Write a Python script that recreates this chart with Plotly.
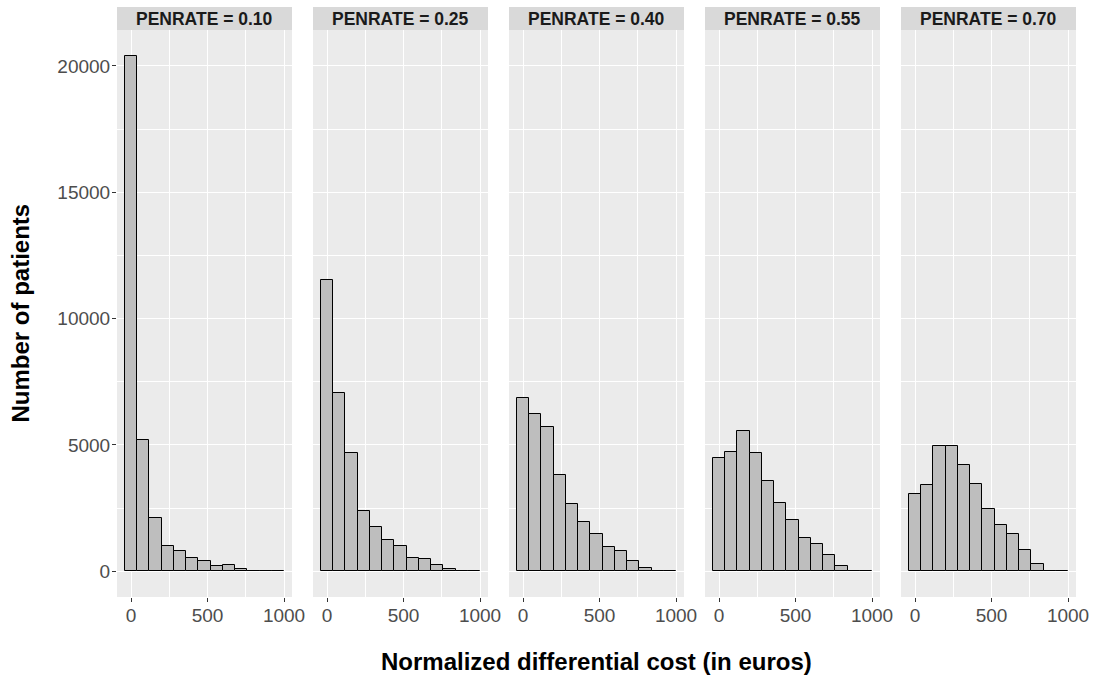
import plotly.graph_objects as go
from plotly.subplots import make_subplots

# -- Data ---------------------------------------------------------------------
BIN_CENTERS = [0, 80, 160, 240, 320, 400, 480, 560, 640, 720, 800, 880, 960]
BIN_WIDTH = 80

PANEL_LABELS = ["PENRATE = 0.10", "PENRATE = 0.25", "PENRATE = 0.40",
                "PENRATE = 0.55", "PENRATE = 0.70"]

counts_010 = [20400, 5190, 2120, 1015, 800, 540, 405, 210, 235, 105, 28, 5, 0]
counts_025 = [11530, 7050, 4680, 2390, 1755, 1240, 1005, 540, 475, 255, 95, 16, 0]
counts_040 = [6865, 6205, 5705, 3795, 2675, 1935, 1480, 975, 790, 410, 120, 28, 0]
counts_055 = [4465, 4730, 5550, 4690, 3585, 2690, 2030, 1320, 1085, 650, 215, 28, 0]
counts_070 = [3060, 3425, 4955, 4940, 4205, 3455, 2480, 1820, 1480, 830, 305, 28, 0]

ALL_COUNTS = [counts_010, counts_025, counts_040, counts_055, counts_070]

X_TICKS = [0, 500, 1000]
X_MINOR = [250, 750]
Y_TICKS = [0, 5000, 10000, 15000, 20000]
Y_MINOR = [2500, 7500, 12500, 17500]

# -- Style ----------------------------------------------------------------------
_PANEL_BG = "#EBEBEB"
_STRIP_BG = "#D9D9D9"
_BAR_FILL = "#BEBEBE"
_TICK_FG = "#4D4D4D"
_FONT = "Liberation Sans, Arial, sans-serif"

W, H = 1095, 675
M_L, M_R, M_T, M_B = 117, 19, 7, 78
PLOT_W = W - M_L - M_R
PLOT_H = H - M_T - M_B
PANEL_W = 175
GAP = 21
STRIP_H = 23

fig = make_subplots(rows=1, cols=5, shared_yaxes=True,
                    horizontal_spacing=GAP / PLOT_W)

y_top = 1 - STRIP_H / PLOT_H

for i, (label, counts) in enumerate(zip(PANEL_LABELS, ALL_COUNTS)):
    col = i + 1
    fig.add_trace(go.Bar(
        x=BIN_CENTERS, y=counts, width=BIN_WIDTH,
        marker=dict(color=_BAR_FILL, line=dict(color="#000000", width=1)),
        showlegend=False,
    ), row=1, col=col)

    x0 = i * (PANEL_W + GAP) / PLOT_W
    x1 = (i * (PANEL_W + GAP) + PANEL_W) / PLOT_W
    ax = "xaxis" if i == 0 else f"xaxis{col}"
    fig.layout[ax].update(
        domain=[x0, x1], range=[-92, 1052],
        tickvals=X_TICKS, ticks="outside", ticklen=4, tickcolor="#333333",
        tickfont=dict(size=19, color=_TICK_FG, family=_FONT),
        ticklabelstandoff=-3,
        showgrid=True, gridcolor="white", gridwidth=1.2,
        minor=dict(tickvals=X_MINOR, showgrid=True, gridcolor="white",
                   gridwidth=0.6, ticks=""),
        zeroline=False, showline=False,
    )
    yax = "yaxis" if i == 0 else f"yaxis{col}"
    fig.layout[yax].update(
        domain=[0, y_top], range=[-1020, 21420],
        tickvals=Y_TICKS, tickformat="d",
        ticks="outside" if i == 0 else "",
        ticklen=4, tickcolor="#333333",
        tickfont=dict(size=19, color=_TICK_FG, family=_FONT),
        ticklabelstandoff=-2,
        showgrid=True, gridcolor="white", gridwidth=1.2,
        minor=dict(tickvals=Y_MINOR, showgrid=True, gridcolor="white",
                   gridwidth=0.6, ticks=""),
        zeroline=False, showline=False,
    )

    # facet strip
    fig.add_shape(type="rect", xref="paper", yref="paper",
                  x0=x0, x1=x1, y0=y_top, y1=1,
                  fillcolor=_STRIP_BG, line=dict(width=0), layer="below")
    fig.add_annotation(text=f"<b>{label}</b>", xref="paper", yref="paper",
                       x=(x0 + x1) / 2, y=(y_top + 1) / 2,
                       xanchor="center", yanchor="middle", showarrow=False,
                       font=dict(size=17.5, color="#1A1A1A", family=_FONT))

# axis titles
fig.add_annotation(text="<b>Normalized differential cost (in euros)</b>",
                   xref="paper", yref="paper", x=0.5, y=-64 / PLOT_H,
                   xanchor="center", yanchor="middle", showarrow=False,
                   font=dict(size=24, color="#000000", family=_FONT))
fig.add_annotation(text="<b>Number of patients</b>",
                   xref="paper", yref="paper", x=-97 / PLOT_W,
                   y=(y_top) / 2,
                   xanchor="center", yanchor="middle", showarrow=False,
                   textangle=-90,
                   font=dict(size=24, color="#000000", family=_FONT))

fig.update_layout(
    width=W, height=H,
    margin=dict(l=M_L, r=M_R, t=M_T, b=M_B),
    paper_bgcolor="white",
    plot_bgcolor=_PANEL_BG,
    bargap=0,
    font=dict(family=_FONT),
)

# drop the browser's default 8px page margin so the figure sits at (0, 0)
fig.write_html("out.html", config={"displayModeBar": False},
               post_script="document.body.style.margin='0';")
